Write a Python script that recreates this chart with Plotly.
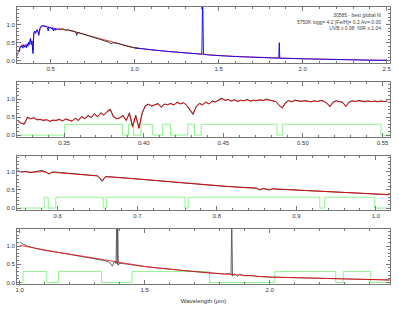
import plotly.graph_objects as go

# ---------------- data ----------------
# Panel 1: full spectrum 0.3-2.5 um
p1_red_wl = [0.300, 0.305, 0.310, 0.315, 0.320, 0.330, 0.340, 0.350, 0.360, 0.370, 0.380, 0.390, 0.395,
             0.400, 0.410, 0.420, 0.430, 0.440, 0.450, 0.460, 0.480, 0.500, 0.520, 0.550, 0.600, 0.700,
             0.800, 0.900, 1.000, 1.100, 1.200, 1.300, 1.400, 1.500, 1.600, 1.700, 1.800, 1.900, 2.000,
             2.100, 2.200, 2.300, 2.400, 2.500]
p1_red_fx = [0.12, 0.22, 0.30, 0.25, 0.40, 0.45, 0.40, 0.44, 0.42, 0.50, 0.58, 0.48, 0.30,
             0.76, 0.80, 0.84, 0.75, 0.90, 0.95, 0.96, 0.93, 0.91, 0.88, 0.87, 0.85, 0.73,
             0.59, 0.48, 0.36, 0.30, 0.26, 0.22, 0.19, 0.15, 0.125, 0.105, 0.09, 0.075, 0.06,
             0.05, 0.04, 0.032, 0.025, 0.02]

p1_blue_wl = [0.310, 0.315, 0.320, 0.325, 0.330, 0.335, 0.340, 0.345, 0.350, 0.355, 0.360, 0.365, 0.370,
              0.375, 0.380, 0.385, 0.390, 0.393, 0.396, 0.400, 0.405, 0.410, 0.415, 0.420, 0.425, 0.430,
              0.435, 0.440, 0.445, 0.450, 0.455, 0.460, 0.465, 0.470, 0.475, 0.480, 0.486, 0.490, 0.495,
              0.500, 0.505, 0.510, 0.517, 0.520, 0.527, 0.530, 0.535, 0.540, 0.545, 0.550, 0.555,
              None,
              1.000, 1.050, 1.100, 1.150, 1.200, 1.250, 1.300, 1.350, 1.380, 1.400, 1.405, 1.410, 1.450,
              1.500, 1.550, 1.600, 1.650, 1.700, 1.750, 1.800, 1.850, 1.858, 1.861, 1.864, 1.900, 2.000,
              2.100, 2.200, 2.300, 2.400, 2.500]
p1_blue_fx = [0.25, 0.33, 0.40, 0.38, 0.42, 0.35, 0.45, 0.38, 0.42, 0.36, 0.47, 0.40, 0.52,
              0.45, 0.62, 0.45, 0.55, 0.25, 0.20, 0.78, 0.82, 0.75, 0.82, 0.86, 0.80, 0.70,
              0.88, 0.92, 0.97, 0.95, 0.98, 0.94, 0.97, 0.93, 0.96, 0.92, 0.82, 0.94, 0.90,
              0.92, 0.88, 0.91, 0.82, 0.90, 0.84, 0.89, 0.86, 0.88, 0.86, 0.89, 0.87,
              None,
              0.36, 0.33, 0.30, 0.28, 0.26, 0.24, 0.22, 0.20, 0.19, 0.185, 1.70, 0.18, 0.16,
              0.14, 0.13, 0.12, 0.11, 0.10, 0.092, 0.085, 0.078, 0.075, 0.50, 0.072, 0.07, 0.055,
              0.045, 0.035, 0.03, 0.02, 0.015]

p1_black_wl = [0.550, 0.560, 0.570, 0.580, 0.590, 0.600, 0.620, 0.640, 0.650, 0.656, 0.660, 0.680, 0.700,
               0.720, 0.740, 0.760, 0.780, 0.800, 0.820, 0.850, 0.860, 0.870, 0.900, 0.930, 0.960,
               1.000, 1.020]
p1_black_fx = [0.88, 0.86, 0.89, 0.87, 0.84, 0.86, 0.84, 0.81, 0.80, 0.70, 0.79, 0.76, 0.73,
               0.69, 0.66, 0.63, 0.61, 0.59, 0.55, 0.51, 0.47, 0.50, 0.48, 0.43, 0.40,
               0.36, 0.35]

# Panel 2: 0.32-0.555 um (grid start and step)
p2_start, p2_step = 0.321, 0.002
p2_obs = [0.40, 0.33, 0.30, 0.50, 0.45, 0.48, 0.42, 0.44, 0.40, 0.43, 0.38, 0.42, 0.40, 0.44, 0.39,
          0.45, 0.42, 0.38, 0.47, 0.40, 0.52, 0.45, 0.55, 0.48, 0.60, 0.50, 0.62, 0.55, 0.66, 0.72,
          0.50, 0.45, 0.48, 0.55, 0.40, 0.62, 0.25, 0.55, 0.20, 0.60, 0.82, 0.86, 0.80, 0.85, 0.88,
          0.78, 0.86, 0.84, 0.88, 0.83, 0.92, 0.86, 0.90, 0.82, 0.70, 0.57, 0.80, 0.88, 0.84, 0.92,
          0.86, 0.95, 0.92, 0.98, 1.03, 0.96, 0.99, 0.94, 0.98, 0.93, 0.97, 0.95, 0.99, 0.94, 0.97,
          0.95, 0.98, 0.96, 1.00, 0.97, 0.95, 0.93, 0.82, 0.76, 0.90, 0.96, 0.92, 0.97, 0.95, 0.93,
          0.96, 0.94, 0.92, 0.95, 0.93, 0.96, 0.94, 0.88, 0.80, 0.92, 0.95, 0.93, 0.90, 0.79, 0.92,
          0.95, 0.93, 0.96, 0.94, 0.92, 0.95, 0.93, 0.94, 0.92, 0.95, 0.93, 0.94]
p2_mod = [0.38, 0.32, 0.33, 0.48, 0.46, 0.47, 0.43, 0.43, 0.41, 0.42, 0.39, 0.41, 0.41, 0.43, 0.40,
          0.44, 0.41, 0.40, 0.46, 0.42, 0.50, 0.46, 0.53, 0.50, 0.58, 0.52, 0.60, 0.56, 0.64, 0.70,
          0.52, 0.46, 0.47, 0.53, 0.42, 0.58, 0.22, 0.52, 0.18, 0.62, 0.80, 0.85, 0.81, 0.84, 0.86,
          0.76, 0.85, 0.85, 0.87, 0.84, 0.90, 0.87, 0.89, 0.83, 0.72, 0.60, 0.79, 0.86, 0.85, 0.90,
          0.87, 0.93, 0.92, 0.96, 1.00, 0.97, 0.98, 0.95, 0.97, 0.94, 0.96, 0.95, 0.98, 0.95, 0.96,
          0.95, 0.97, 0.96, 0.98, 0.97, 0.95, 0.93, 0.84, 0.74, 0.88, 0.95, 0.93, 0.96, 0.95, 0.94,
          0.95, 0.94, 0.93, 0.94, 0.93, 0.95, 0.94, 0.89, 0.78, 0.91, 0.94, 0.93, 0.91, 0.80, 0.91,
          0.94, 0.93, 0.95, 0.94, 0.93, 0.94, 0.93, 0.94, 0.93, 0.94, 0.93, 0.94]
p2_mask_wl = [0.320, 0.3504, 0.3867, 0.3905, 0.3936, 0.3983, 0.4056, 0.4119, 0.4168, 0.4277,
              0.4319, 0.4361, 0.4837, 0.4873, 0.549, 0.555]
p2_mask = [0, 0.3, 0, 0.3, 0, 0.3, 0, 0.3, 0, 0.3, 0, 0.3, 0, 0.3, 0, 0]

# Panel 3: 0.55-1.02 um
p3_wl = [0.549, 0.555, 0.560, 0.565, 0.570, 0.575, 0.580, 0.585, 0.589, 0.593, 0.600, 0.610, 0.620,
         0.630, 0.640, 0.650, 0.656, 0.660, 0.670, 0.680, 0.690, 0.700, 0.710, 0.720, 0.730, 0.740,
         0.750, 0.760, 0.770, 0.780, 0.790, 0.800, 0.810, 0.820, 0.830, 0.840, 0.850, 0.854, 0.858,
         0.866, 0.870, 0.880, 0.890, 0.900, 0.910, 0.920, 0.930, 0.940, 0.950, 0.960, 0.970, 0.980,
         0.990, 1.000, 1.010, 1.017]
p3_obs = [1.03, 1.00, 1.02, 0.98, 1.00, 1.01, 1.04, 1.00, 0.94, 1.00, 0.98, 0.97, 0.95,
          0.93, 0.91, 0.89, 0.74, 0.87, 0.86, 0.84, 0.83, 0.81, 0.79, 0.77, 0.75, 0.73,
          0.71, 0.69, 0.67, 0.65, 0.64, 0.62, 0.60, 0.59, 0.58, 0.56, 0.55, 0.50, 0.54,
          0.50, 0.53, 0.52, 0.51, 0.50, 0.48, 0.47, 0.45, 0.44, 0.43, 0.42, 0.41, 0.40,
          0.39, 0.38, 0.37, 0.37]
p3_mod = [1.01, 1.00, 1.00, 0.99, 0.99, 1.00, 1.01, 0.99, 0.95, 0.99, 0.98, 0.96, 0.95,
          0.93, 0.91, 0.89, 0.77, 0.87, 0.85, 0.84, 0.82, 0.80, 0.79, 0.77, 0.75, 0.73,
          0.71, 0.69, 0.67, 0.65, 0.63, 0.62, 0.60, 0.59, 0.57, 0.56, 0.55, 0.51, 0.54,
          0.51, 0.53, 0.52, 0.51, 0.49, 0.48, 0.47, 0.45, 0.44, 0.43, 0.42, 0.41, 0.40,
          0.39, 0.38, 0.38, 0.37]
p3_mask_wl = [0.5487, 0.583, 0.588, 0.5975, 0.657, 0.661, 0.760, 0.764, 0.9295, 0.9358, 0.9985, 1.018]
p3_mask = [0, 0.3, 0, 0.3, 0, 0.3, 0, 0.3, 0, 0.3, 0, 0]

# Panel 4: 1.0-2.48 um
p4_mod_wl = [1.00, 1.05, 1.10, 1.15, 1.20, 1.25, 1.30, 1.35, 1.40, 1.45, 1.50, 1.55, 1.60, 1.65,
             1.70, 1.75, 1.80, 1.85, 1.90, 1.95, 2.00, 2.05, 2.10, 2.15, 2.20, 2.25, 2.30, 2.35,
             2.40, 2.45, 2.48]
p4_mod = [1.02, 0.95, 0.89, 0.83, 0.78, 0.72, 0.66, 0.60, 0.55, 0.49, 0.44, 0.40, 0.36, 0.33,
          0.30, 0.27, 0.24, 0.22, 0.19, 0.17, 0.15, 0.14, 0.13, 0.12, 0.11, 0.10, 0.10, 0.09,
          0.08, 0.08, 0.07]
p4_obs_wl = [1.00, 1.03, 1.06, 1.10, 1.15, 1.20, 1.25, 1.30, 1.34, 1.36, 1.37, 1.38, 1.385, 1.388,
             1.390, 1.392, 1.394, 1.40, 1.42, 1.45, 1.50, 1.55, 1.60, 1.65, 1.70, 1.75, 1.80, 1.82,
             1.84, 1.845, 1.848, 1.851, 1.86, 1.87, 1.88, 1.90, 1.93, 1.95, 2.00, 2.10, 2.20, 2.30,
             2.40, 2.48]
p4_obs = [1.10, 1.00, 0.94, 0.88, 0.83, 0.77, 0.72, 0.66, 0.60, 0.55, 0.45, 0.58, 0.52, 1.70,
          0.50, 1.70, 0.47, 0.53, 0.51, 0.49, 0.44, 0.40, 0.36, 0.33, 0.30, 0.27, 0.24, 0.23,
          0.25, 0.20, 1.70, 0.18, 0.24, 0.17, 0.23, 0.18, 0.20, 0.17, 0.15, 0.13, 0.11, 0.10,
          0.08, 0.07]
p4_mask_wl = [0.989, 1.013, 1.108, 1.155, 1.327, 1.449, 1.759, 2.020, 2.264, 2.294, 2.404, 2.481]
p4_mask = [0, 0.3, 0, 0.3, 0, 0.3, 0, 0.3, 0, 0.3, 0, 0]

y_ticks = [0.0, 0.5, 1.0]
y_ticklabels = ["0.0", "0.5", "1.0"]

info_lines = ["30585 - best global fit",
              "5750K logg= 4.2 [Fe/H]= 0.2 Av=-0.00",
              "UVB x 0.98  NIR x 1.04"]

# ---------------- figure ----------------
RED = "rgba(255,0,0,0.85)"
BLUE = "#0000ff"
BLACK = "#222222"
GREEN = "#80f080"
LW = 0.9

fig = go.Figure()

def add(x, y, color, ax, width=LW, shape="linear"):
    fig.add_trace(go.Scatter(x=x, y=y, mode="lines", xaxis="x" + ax, yaxis="y" + ax,
                             line=dict(color=color, width=width, shape=shape),
                             connectgaps=False, hoverinfo="skip", showlegend=False))

# panel 1
add(p1_red_wl, p1_red_fx, RED, "")
add(p1_blue_wl, p1_blue_fx, BLUE, "")
add(p1_black_wl, p1_black_fx, BLACK, "")

# panel 2
wl2_obs = [p2_start + p2_step * i for i in range(len(p2_obs))]
wl2_mod = [p2_start + p2_step * i for i in range(len(p2_mod))]
add(p2_mask_wl, p2_mask, GREEN, "2", shape="hv")
add(wl2_obs, p2_obs, BLACK, "2")
add(wl2_mod, p2_mod, RED, "2")

# panel 3
add(p3_mask_wl, p3_mask, GREEN, "3", shape="hv")
add(p3_wl, p3_obs, BLACK, "3")
add(p3_wl, p3_mod, RED, "3")

# panel 4
add(p4_mask_wl, p4_mask, GREEN, "4", shape="hv")
add(p4_obs_wl, p4_obs, "#555555", "4")
add(p4_mod_wl, p4_mod, RED, "4")

FONT = "Liberation Sans, Arial, sans-serif"
tickfont = dict(family=FONT, size=6, color="#333333")
AXC = "#777777"

def xax(rng, dtick, minor, fmt, anchor, title=None):
    d = dict(range=rng, dtick=dtick, tick0=0, tickformat=fmt, anchor=anchor, automargin=False,
             showline=True, linecolor=AXC, linewidth=1, mirror="allticks",
             ticks="inside", ticklen=4, tickcolor=AXC, tickwidth=1,
             minor=dict(dtick=minor, ticks="inside", ticklen=2, tickcolor=AXC),
             showgrid=False, zeroline=False, tickfont=tickfont, domain=[0, 1])
    if title:
        d["title"] = dict(text=title, font=dict(family=FONT, size=6, color="#333333"), standoff=6)
    return d

def yax(dom, anchor, rng=(-0.05, 1.47)):
    return dict(range=list(rng), tickmode="array", tickvals=y_ticks, ticktext=y_ticklabels,
                anchor=anchor, domain=dom, automargin=False,
                showline=True, linecolor=AXC, linewidth=1, mirror="allticks",
                ticks="inside", ticklen=4, tickcolor=AXC, tickwidth=1,
                minor=dict(dtick=0.1, tick0=0, ticks="inside", ticklen=2, tickcolor=AXC),
                showgrid=False, zeroline=False, tickfont=tickfont)

fig.update_layout(
    width=399, height=314,
    margin=dict(l=17, r=9, t=7, b=30, autoexpand=False),
    paper_bgcolor="white", plot_bgcolor="white",
    xaxis=xax([0.3, 2.52], 0.5, 0.1, ".1f", "y"),
    yaxis=yax([0.798, 1.0], "x", (-0.055, 1.48)),
    xaxis2=xax([0.3204, 0.5547], 0.05, 0.01, ".2f", "y2"),
    yaxis2=yax([0.531, 0.729], "x2"),
    xaxis3=xax([0.5487, 1.0178], 0.1, 0.02, ".1f", "y3"),
    yaxis3=yax([0.267, 0.462], "x3", (-0.055, 1.44)),
    xaxis4=xax([0.989, 2.481], 0.5, 0.1, ".1f", "y4", title="Wavelength (\u03bcm)"),
    yaxis4=yax([0.0, 0.199], "x4", (-0.04, 1.47)),
    annotations=[dict(text="<br>".join(info_lines), xref="paper", yref="paper",
                      x=0.985, y=0.99, xanchor="right", yanchor="top", align="right",
                      showarrow=False,
                      font=dict(family=FONT, size=5, color="#444444"))],
)

fig.write_html("out.html", config={"displayModeBar": False},
               post_script="document.body.style.margin='0px';document.body.style.padding='0px';")
